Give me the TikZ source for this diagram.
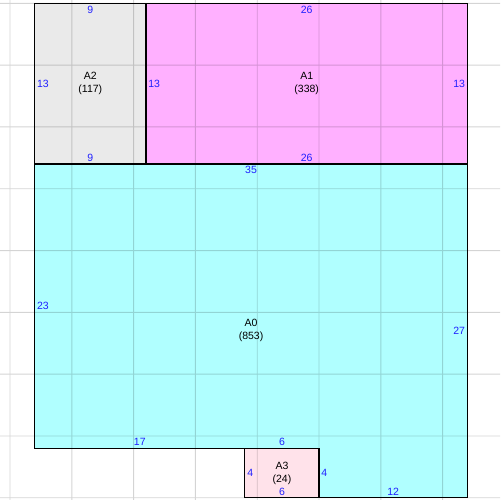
\documentclass[tikz,border=0pt]{standalone}
\usepackage{fontspec}
\setmainfont{Liberation Sans}
\usepackage{tikz}
\usetikzlibrary{positioning}
\usepackage{xcolor}
\definecolor{areagrey}{RGB}{234,234,234}
\definecolor{areamag}{RGB}{255,176,255}
\definecolor{areacyan}{RGB}{176,255,255}
\definecolor{areapink}{RGB}{255,226,234}
\definecolor{dimblue}{RGB}{32,32,255}

\begin{document}
\begin{tikzpicture}[x=12.36pt, y=-12.36pt,
   dim/.style={text=dimblue, inner sep=2.2pt, font=\fontsize{10.5}{12}\selectfont},
   area/.style={align=center, inner sep=0pt, font=\fontsize{10.5}{13}\selectfont},
   wall/.style={draw=black, line width=1.2pt}]
   \useasboundingbox (-2.81,-0.27) rectangle (37.64,40.18);

   \fill[areagrey] (0,0) rectangle (9,13);
   \fill[areamag] (9,0) rectangle (35,13);
   \fill[areacyan] (0,13) -- (35,13) -- (35,40) -- (23,40) -- (23,36) -- (0,36) -- cycle;
   \fill[areapink] (17,36) rectangle (23,40);

   \begin{scope}[opacity=0.17, transparency group]
   \foreach \i in {-2,3,...,33} \draw[line width=0.9pt] (\i,-0.27) -- (\i,40.18);
   \foreach \j in {0,5,...,40} \draw[line width=0.9pt] (-2.81,\j) -- (37.64,\j);
   \end{scope}

   \draw[wall] (0,0) rectangle (9,13);
   \draw[wall] (9,0) rectangle (35,13);
   \draw[wall] (0,13) -- (35,13) -- (35,40) -- (23,40) -- (23,36) -- (0,36) -- cycle;
   \draw[wall] (17,36) rectangle (23,40);

   % A2
   \node[area] (a2) at (4.5,6.5) {A2\\(117)};
   \node[dim, anchor=north] (a2top) at (4.5,0) {9};
   \node[dim, anchor=south] (a2bot) at (4.5,13) {9};
   \node[dim, anchor=west] (a2left) at (0,6.5) {13};

   % A1
   \node[area] (a1) at (22,6.5) {A1\\(338)};
   \node[dim, anchor=north] (a1top) at (22,0) {26};
   \node[dim, anchor=south] (a1bot) at (22,13) {26};
   \node[dim, anchor=west] (a1left) at (9,6.5) {13};
   \node[dim, anchor=east] (a1right) at (35,6.5) {13};

   % A0
   \node[area] (a0) at (17.5,26.5) {A0\\(853)};
   \node[dim, anchor=north] (a0top) at (17.5,13) {35};
   \node[dim, anchor=west] (a0left) at (0,24.5) {23};
   \node[dim, anchor=east] (a0right) at (35,26.5) {27};
   \node[dim, anchor=south] (a0botl) at (8.5,36) {17};
   \node[dim, anchor=south] (a0notch) at (20,36) {6};
   \node[dim, anchor=west] (a0step) at (23,38) {4};
   \node[dim, anchor=south] (a0botr) at (29,40) {12};

   % A3
   \node[area] (a3) at (20,38) {A3\\(24)};
   \node[dim, anchor=west] (a3left) at (17,38) {4};
   \node[dim, anchor=south] (a3bot) at (20,40) {6};
\end{tikzpicture}
\end{document}
